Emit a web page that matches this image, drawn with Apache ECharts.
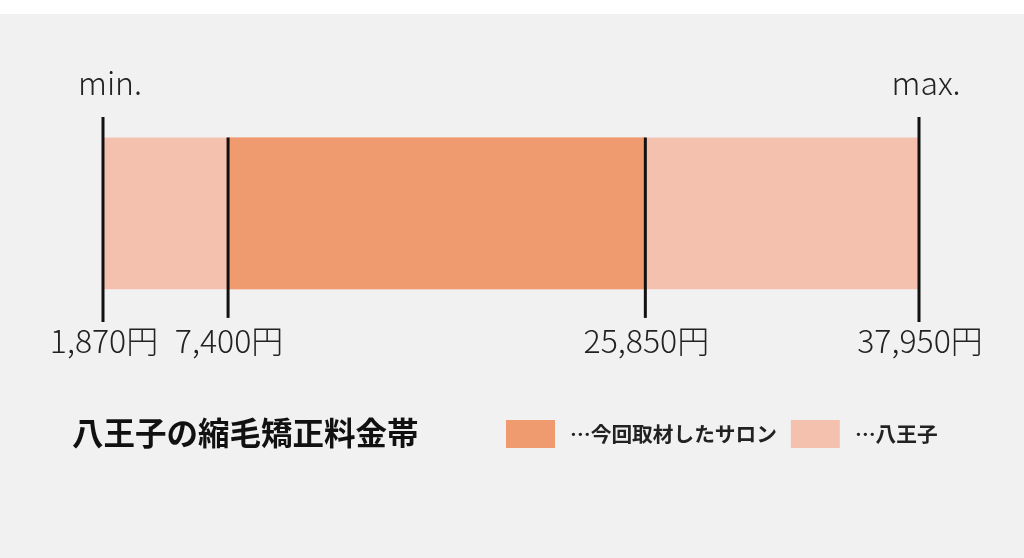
<!DOCTYPE html>
<html>
<head>
<meta charset="utf-8">
<script src="https://cdn.jsdelivr.net/npm/echarts@6/dist/echarts.min.js"></script>
<style>
  html, body { margin: 0; padding: 0; background: #ffffff; }
  #wrap { width: 1024px; height: 558px; padding-top: 14px; box-sizing: border-box; background: #ffffff; }
  #chart { width: 1024px; height: 544px; background: #f2f1f1; }
</style>
</head>
<body>
<div id="wrap"><div id="chart"></div></div>
<script>
// ---- data ----
const chartTitle = '八王子の縮毛矯正料金帯';
const areaName = '…八王子';
const salonName = '…今回取材したサロン';
const areaRange = [1870, 37950];     // 八王子 min / max
const salonRange = [7400, 25850];    // 今回取材したサロン
const markValues = [1870, 7400, 25850, 37950];
const endLabels = ['min.', 'max.'];

const FONT = '"Noto Sans CJK JP", "Noto Sans", sans-serif';
const lightColor = '#f5c1af';
const darkColor = '#f09a70';

function fmt(v) {
  return v.toString().replace(/\B(?=(\d{3})+(?!\d))/g, ',') + '円';
}

const chart = echarts.init(document.getElementById('chart'));

function barRender(params, api) {
  const s = api.coord([api.value(0), 90]);
  const e = api.coord([api.value(1), 16]);
  return {
    type: 'rect',
    shape: { x: s[0], y: s[1], width: e[0] - s[0], height: e[1] - s[1] },
    style: { fill: api.visual('color') }
  };
}

function lineRender(params, api) {
  const v = api.value(0);
  const isEnd = params.dataIndex === 0 || params.dataIndex === markValues.length - 1;
  const top = api.coord([v, isEnd ? 100 : 90]);
  const bot = api.coord([v, isEnd ? 0 : 2]);
  const base = api.coord([v, 0]);
  const children = [
    {
      type: 'line',
      shape: { x1: top[0], y1: top[1], x2: bot[0], y2: bot[1] },
      style: { stroke: '#111111', lineWidth: 3 }
    },
    {
      type: 'text',
      style: {
        text: fmt(v), x: base[0] + 1, y: base[1] + 3,
        align: 'center', verticalAlign: 'top',
        font: '300 32px ' + FONT, fill: '#222222'
      }
    }
  ];
  if (isEnd) {
    const t = api.coord([v, 100]);
    children.push({
      type: 'text',
      style: {
        text: params.dataIndex === 0 ? endLabels[0] : endLabels[1],
        x: t[0] + 7, y: t[1] - 18,
        align: 'center', verticalAlign: 'bottom',
        font: '300 32px ' + FONT, fill: '#222222'
      }
    });
  }
  return { type: 'group', children: children };
}

chart.setOption({
  backgroundColor: 'transparent',
  animation: false,
  textStyle: { fontFamily: FONT },
  title: {
    text: chartTitle,
    left: 72, top: 403, padding: 0,
    textStyle: { fontSize: 31.5, fontWeight: 'bold', color: '#111111', fontFamily: FONT }
  },
  legend: {
    data: [salonName, areaName],
    left: 506, top: 406, padding: 0,
    icon: 'rect', itemWidth: 49, itemHeight: 28, itemGap: 14,
    textStyle: { fontSize: 20.7, fontWeight: 'bold', color: '#222222', fontFamily: FONT, padding: [0, 0, 0, 10] }
  },
  grid: { left: 103, right: 105, top: 103, height: 205 },
  xAxis: { type: 'value', min: areaRange[0], max: areaRange[1], show: false },
  yAxis: { type: 'value', min: 0, max: 100, show: false },
  series: [
    {
      name: areaName, type: 'custom', renderItem: barRender,
      itemStyle: { color: lightColor },
      encode: { x: [0, 1] },
      data: [[areaRange[0], areaRange[1]]], z: 1
    },
    {
      name: salonName, type: 'custom', renderItem: barRender,
      itemStyle: { color: darkColor },
      encode: { x: [0, 1] },
      data: [[salonRange[0], salonRange[1]]], z: 2
    },
    {
      name: 'marks', type: 'custom', renderItem: lineRender,
      encode: { x: 0 },
      data: markValues.map(v => [v]), z: 3, silent: true
    }
  ]
});
</script>
</body>
</html>
